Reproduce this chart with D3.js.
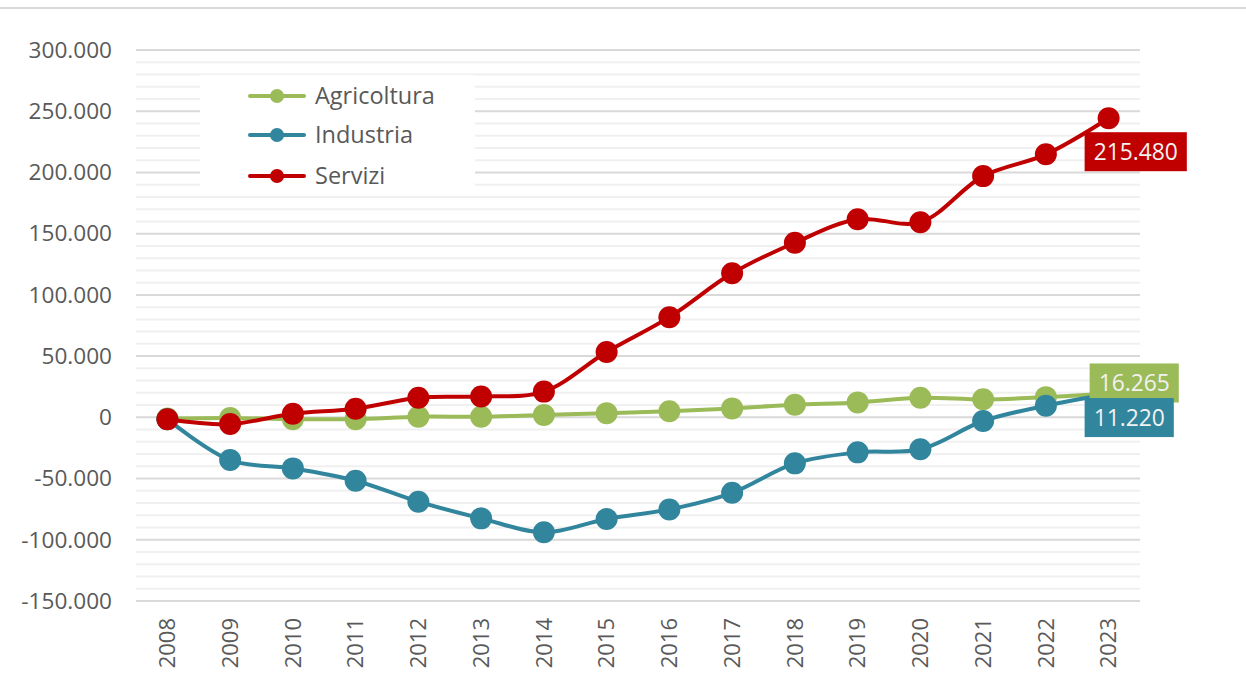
<!DOCTYPE html>
<html>
<head>
<meta charset="utf-8">
<script src="https://cdn.jsdelivr.net/npm/d3@7"></script>
<style>
  body { margin: 0; background: #fff; }
  text { font-family: "Open Sans", sans-serif; }
</style>
</head>
<body>
<div id="chart"></div>
<script>
// Data (thousands, difference vs 2008)
const years = [2008, 2009, 2010, 2011, 2012, 2013, 2014, 2015, 2016, 2017, 2018, 2019, 2020, 2021, 2022, 2023];
const agricoltura = [-1, -0.5, -1.5, -1.5, 0.5, 0.5, 2, 3.3, 5, 7.3, 10.3, 12.2, 16, 14.7, 16.5, 19.5];
const industria = [-1.5, -34.9, -41.7, -51.8, -68.9, -82.5, -93.9, -83, -75.2, -61.6, -37.6, -28.6, -26.1, -3, 9.5, 19];
const servizi = [-1.5, -5.5, 3, 7, 16, 17, 21, 53.3, 81.8, 117.6, 142.6, 161.7, 159.3, 197, 214.8, 244.3];
const seriesNames = ["Agricoltura", "Industria", "Servizi"];
const seriesColors = ["#9BBB59", "#31859C", "#C00000"];
const endLabels = ["16.265", "11.220", "215.480"];
const yTicks = [-150, -100, -50, 0, 50, 100, 150, 200, 250, 300];
const yTickLabels = ["-150.000", "-100.000", "-50.000", "0", "50.000", "100.000", "150.000", "200.000", "250.000", "300.000"];

document.addEventListener("DOMContentLoaded", () => {
    const svgWidth = 1246;
    const svgHeight = 673;

    const svg = d3.select("#chart")
        .append("svg")
        .attr("width", svgWidth)
        .attr("height", svgHeight);

    // top rule
    svg.append("line")
        .attr("x1", 0).attr("x2", svgWidth)
        .attr("y1", 8).attr("y2", 8)
        .attr("stroke", "#d9d9d9")
        .attr("stroke-width", 2);

    const plot = { left: 136, right: 1140, top: 50, bottom: 601 };

    const xScale = d3.scaleBand()
        .domain(years)
        .range([plot.left, plot.right]);

    const yScale = d3.scaleLinear()
        .domain([-150, 300])
        .range([plot.bottom, plot.top]);

    const cx = d => xScale(d) + xScale.bandwidth() / 2;

    // minor gridlines every 10.000
    const minor = d3.range(-150, 301, 10).filter(v => v % 50 !== 0);
    svg.append("g").selectAll("line")
        .data(minor)
        .enter()
        .append("line")
        .attr("x1", plot.left).attr("x2", plot.right)
        .attr("y1", d => yScale(d)).attr("y2", d => yScale(d))
        .attr("stroke", "#f0f0f0")
        .attr("stroke-width", 2);

    // major gridlines
    svg.append("g").selectAll("line")
        .data(yTicks)
        .enter()
        .append("line")
        .attr("x1", plot.left).attr("x2", plot.right)
        .attr("y1", d => yScale(d)).attr("y2", d => yScale(d))
        .attr("stroke", "#d9d9d9")
        .attr("stroke-width", 2);

    // Y axis
    const yAxis = svg.append("g")
        .attr("transform", `translate(${plot.left - 24},0)`)
        .call(d3.axisLeft(yScale)
            .tickValues(yTicks)
            .tickSize(0)
            .tickPadding(0)
            .tickFormat((d, i) => yTickLabels[i]));
    yAxis.select(".domain").remove();
    yAxis.selectAll("text")
        .attr("fill", "#595959")
        .style("font-size", "22.6px")
        .style("font-family", "'Open Sans', sans-serif");

    // X axis
    const xAxis = svg.append("g")
        .attr("transform", `translate(0,${plot.bottom})`)
        .call(d3.axisBottom(xScale).tickSize(0).tickPadding(0));
    xAxis.select(".domain").remove();
    xAxis.selectAll("text")
        .attr("transform", "rotate(-90)")
        .attr("x", -17)
        .attr("y", 0)
        .attr("dy", "0.35em")
        .attr("text-anchor", "end")
        .attr("fill", "#595959")
        .style("font-size", "22px")
        .style("font-family", "'Open Sans', sans-serif");

    // Legend
    const legend = svg.append("g");
    legend.append("rect")
        .attr("x", 200).attr("y", 75)
        .attr("width", 275).attr("height", 121)
        .attr("fill", "#fff");
    const legendRowY = [96, 135, 176];
    seriesNames.forEach((name, i) => {
        const g = legend.append("g").attr("transform", `translate(0,${legendRowY[i]})`);
        g.append("line")
            .attr("x1", 250).attr("x2", 304)
            .attr("stroke", seriesColors[i])
            .attr("stroke-width", 4)
            .attr("stroke-linecap", "round");
        g.append("circle")
            .attr("cx", 277).attr("r", 7)
            .attr("fill", seriesColors[i]);
        g.append("text")
            .attr("x", 315)
            .attr("dy", "0.35em")
            .attr("fill", "#595959")
            .style("font-size", "23.5px")
            .text(name);
    });

    // Lines
    const allSeries = [agricoltura, industria, servizi];
    const line = d3.line()
        .x((d, i) => cx(years[i]))
        .y(d => yScale(d))
        .curve(d3.curveCatmullRom.alpha(0.5));

    allSeries.forEach((vals, s) => {
        const g = svg.append("g");
        g.append("path")
            .datum(vals)
            .attr("d", line)
            .attr("fill", "none")
            .attr("stroke", seriesColors[s])
            .attr("stroke-width", 4);
        g.selectAll("circle")
            .data(vals)
            .enter()
            .append("circle")
            .attr("cx", (d, i) => cx(years[i]))
            .attr("cy", d => yScale(d))
            .attr("r", 11)
            .attr("fill", seriesColors[s]);
    });

    // End labels (anchored near the last point)
    const last = years.length - 1;
    const labelOffsets = [[-19, -30], [-24, 4], [-24, 14]];
    [2, 0, 1].forEach(s => {
        const px = cx(years[last]);
        const py = yScale(allSeries[s][last]);
        const g = svg.append("g")
            .attr("transform", `translate(${px + labelOffsets[s][0]},${py + labelOffsets[s][1]})`);
        const t = g.append("text")
            .attr("x", 9)
            .attr("y", 19.5)
            .attr("dy", "0.35em")
            .attr("fill", "#f2f2f2")
            .style("font-size", "22.8px")
            .text(endLabels[s]);
        const w = t.node().getComputedTextLength();
        g.insert("rect", "text")
            .attr("width", w + 18)
            .attr("height", 39)
            .attr("fill", seriesColors[s]);
    });
});
</script>
</body>
</html>
